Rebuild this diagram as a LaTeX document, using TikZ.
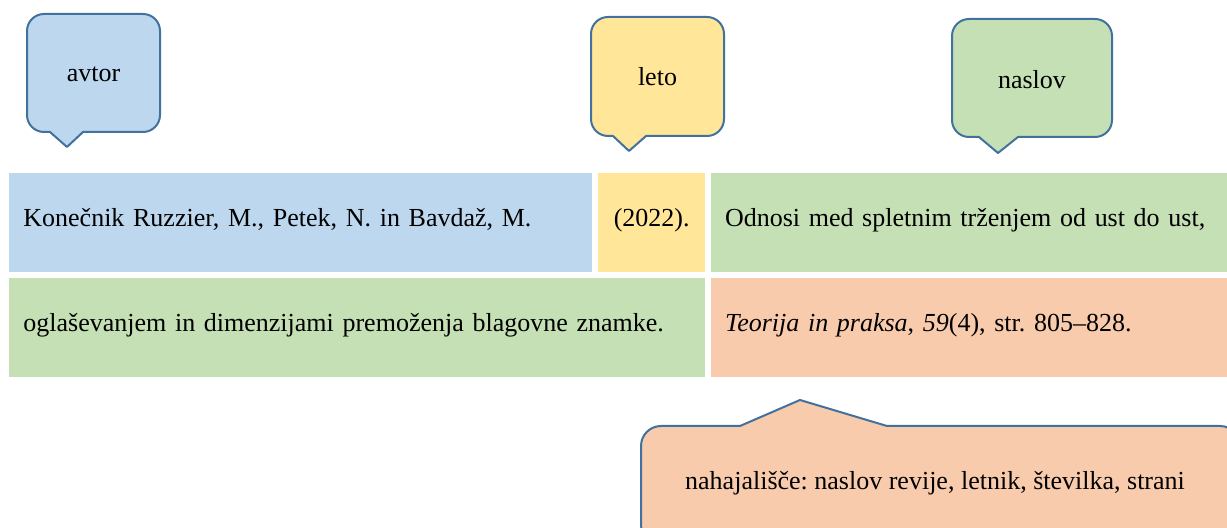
\documentclass[tikz,border=0pt]{standalone}
\usepackage{fontspec}
\setmainfont{Liberation Serif}
\usetikzlibrary{positioning}
\definecolor{avtorblue}{HTML}{BDD7EE}
\definecolor{letoyellow}{HTML}{FFE699}
\definecolor{naslovgreen}{HTML}{C5E0B4}
\definecolor{virorange}{HTML}{F8CBAD}
\definecolor{bubbleline}{HTML}{41719C}
\tikzset{
    cell/.style={
           rectangle,
           minimum height=49.5pt,
           inner xsep=7pt,
           inner ysep=0pt,
           text height=10pt,
           text depth=6pt,
           align=left,
           font=\fontsize{13}{15}\selectfont,
           },
    bubble/.style={
           draw=bubbleline, line width=1pt,
           line join=round,
           },
    frameless/.style={
           inner sep=0pt,
           font=\fontsize{13}{15}\selectfont,
           },
}

\begin{document}
\frenchspacing
\begin{tikzpicture}[x=0.5pt, y=-0.5pt, node distance=2.5pt]
	\useasboundingbox (0,0) rectangle (1227,528);

	% first row
	\node[cell, fill=avtorblue, anchor=north west, text width=277.5pt] (avtor) at (9,173) {Konečnik Ruzzier, M., Petek, N. in Bavdaž, M.};
	\node[cell, fill=letoyellow, right=of avtor, minimum width=53.5pt, inner xsep=0pt] (leto) {(2022).};
	\node[cell, fill=naslovgreen, right=of leto, text width=245pt] (naslov) {Odnosi med spletnim trženjem od ust do ust,};

	% second row
	\node[cell, fill=naslovgreen, below=of avtor.south west, anchor=north west, text width=334pt] (naslov2) {oglaševanjem in dimenzijami premoženja blagovne znamke.};
	\node[cell, fill=virorange, right=of naslov2, text width=244.5pt] (vir) {\textit{Teorija in praksa}, \textit{59}(4), str. 805--828.};

	% callouts
	\filldraw[bubble, fill=avtorblue] (83,132) [rounded corners=8.5pt] -- (160,132) -- (160,14) -- (27,14) -- (27,132) [sharp corners] -- (50,132) -- (67,147) -- cycle;
	\node[frameless] (avtorlbl) at (93.5,74) {avtor};

	\filldraw[bubble, fill=letoyellow] (646,136) [rounded corners=8.5pt] -- (724,136) -- (724,17) -- (591,17) -- (591,136) [sharp corners] -- (613,136) -- (629,151) -- cycle;
	\node[frameless] (letolbl) at (657.5,77) {leto};

	\filldraw[bubble, fill=naslovgreen] (1018,137) [rounded corners=8.5pt] -- (1112,137) -- (1112,19) -- (952,19) -- (952,137) [sharp corners] -- (979,137) -- (998,153) -- cycle;
	\node[frameless] (naslovlbl) at (1032,80) {naslov};

	\filldraw[bubble, fill=virorange] (887,426) [rounded corners=10pt] -- (1240,426) -- (1240,545) -- (641,545) -- (641,426) [sharp corners] -- (740,426) -- (800,400) -- cycle;
	\node[frameless] (virlbl) at (935,483) {nahajališče: naslov revije, letnik, številka, strani};

\end{tikzpicture}
\end{document}
